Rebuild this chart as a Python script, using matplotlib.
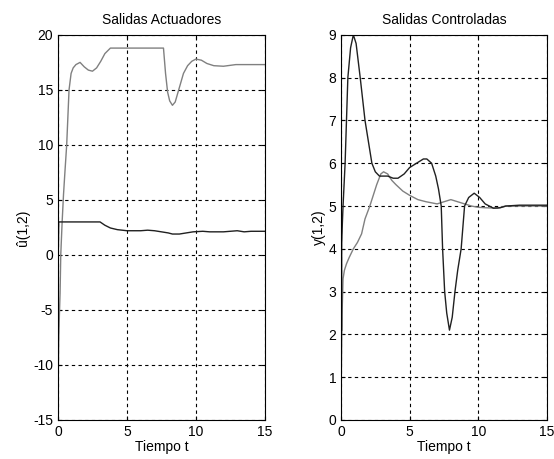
import numpy as np
import matplotlib.pyplot as plt

plt.rcParams['font.family'] = ['Liberation Sans', 'DejaVu Sans']
plt.rcParams['axes.unicode_minus'] = False

# left panel: actuator outputs
t_u1 = [0, 0.05, 0.1, 0.15, 0.2, 0.3, 0.4, 0.5, 0.63, 0.8, 0.95, 1.1, 1.3, 1.6, 1.9, 2.2, 2.5,
        2.8, 3.1, 3.4, 3.8, 5, 6, 7, 7.65, 7.8, 7.95, 8.1, 8.3, 8.5, 8.8, 9.1, 9.4, 9.7,
        10.0, 10.4, 10.8, 11.3, 12, 12.9, 14, 15]
u1 = [-13, -8, -5.5, -3.5, 0, 3, 5.5, 7.5, 10, 15, 16.5, 17.0, 17.3, 17.5, 17.1, 16.8, 16.7,
      17.0, 17.6, 18.3, 18.8, 18.8, 18.8, 18.8, 18.8, 16.5, 14.8, 14.0, 13.6, 13.9, 15.2, 16.5,
      17.2, 17.6, 17.8, 17.7, 17.4, 17.2, 17.15, 17.3, 17.3, 17.3]
t_u2 = [0, 0.02, 0.05, 0.5, 1, 2, 3.05, 3.4, 3.8, 4.3, 5, 6, 6.5, 7, 7.5, 8.0, 8.3, 8.8, 9.3,
        9.8, 10.5, 11, 12, 12.5, 13, 13.5, 14, 15]
u2 = [-8.3, 0, 3, 3, 3, 3, 3, 2.7, 2.45, 2.3, 2.2, 2.2, 2.25, 2.2, 2.1, 2.0, 1.9, 1.9, 2.0,
      2.1, 2.15, 2.1, 2.1, 2.15, 2.2, 2.1, 2.15, 2.15]

# right panel: controlled outputs
t_y1 = [0.05, 0.05, 0.1, 0.15, 0.3, 0.5, 0.7, 0.9, 1.1, 1.4, 1.75, 2.0, 2.25, 2.5, 2.8, 3.1,
        3.4, 3.8, 4.15, 4.6, 5.0, 5.5, 6.0, 6.25, 6.6, 6.9, 7.1, 7.3, 7.4, 7.55, 7.7, 7.9,
        8.1, 8.3, 8.5, 8.75, 9.0, 9.3, 9.7, 10.1, 10.5, 11.1, 11.6, 12, 13, 15]
y1 = [2.1, 4.1, 4.6, 5.0, 6.0, 8.0, 8.7, 9.0, 8.8, 8.0, 7.0, 6.5, 6.0, 5.8, 5.7, 5.7, 5.7,
      5.65, 5.65, 5.75, 5.9, 6.0, 6.1, 6.1, 6.0, 5.7, 5.4, 5.0, 4.0, 3.0, 2.5, 2.1, 2.4,
      3.0, 3.5, 4.0, 5.0, 5.2, 5.3, 5.2, 5.05, 4.95, 4.96, 5.0, 5.02, 5.02]
t_y2 = [0, 0.02, 0.08, 0.15, 0.25, 0.4, 0.6, 0.9, 1.2, 1.5, 1.75, 2.1, 2.6, 2.9, 3.1, 3.4,
        3.7, 4.0, 4.5, 5.0, 5.6, 6.2, 7.0, 7.5, 8.0, 8.5, 9.0, 9.5, 10.0, 10.5, 11.4, 12, 13, 15]
y2 = [0, 1.0, 2.5, 3.3, 3.5, 3.65, 3.8, 4.0, 4.15, 4.35, 4.7, 5.0, 5.5, 5.75, 5.8, 5.75,
      5.6, 5.5, 5.35, 5.25, 5.15, 5.1, 5.05, 5.1, 5.15, 5.1, 5.05, 5.0, 4.97, 4.96, 4.95,
      5.0, 5.0, 5.0]

gray = '#808080'
dark = '#202020'

fig = plt.figure(figsize=(5.54, 4.59), dpi=100)
ax1 = fig.add_axes([0.1047, 0.085, 0.3733, 0.839])
ax2 = fig.add_axes([0.6155, 0.085, 0.3718, 0.839])

ax1.plot(t_u1, u1, color=gray, lw=1)
ax1.plot(t_u2, u2, color=dark, lw=1)
ax2.plot(t_y2, y2, color=gray, lw=1)
ax2.plot(t_y1, y1, color=dark, lw=1)

def style(ax, ylim, yticks, title, ylab):
    ax.set_xlim(0, 15)
    ax.set_ylim(ylim)
    ax.set_xticks([0, 5, 10, 15])
    ax.set_yticks(yticks)
    ax.grid(True, color='black', linestyle=(0, (3, 3)), linewidth=0.8)
    ax.tick_params(direction='in', top=True, right=True, labelsize=10, length=3)
    ax.set_title(title, fontsize=10, pad=8)
    ax.set_xlabel('Tiempo t', fontsize=10, labelpad=1)
    ax.set_ylabel(ylab, fontsize=10, labelpad=2)
    for s in ax.spines.values():
        s.set_linewidth(0.8)

style(ax1, (-15, 20), range(-15, 21, 5), 'Salidas Actuadores', 'û(1,2)')
style(ax2, (0, 9), range(0, 10), 'Salidas Controladas', 'y(1,2)')

plt.savefig('out.png', dpi=100)
